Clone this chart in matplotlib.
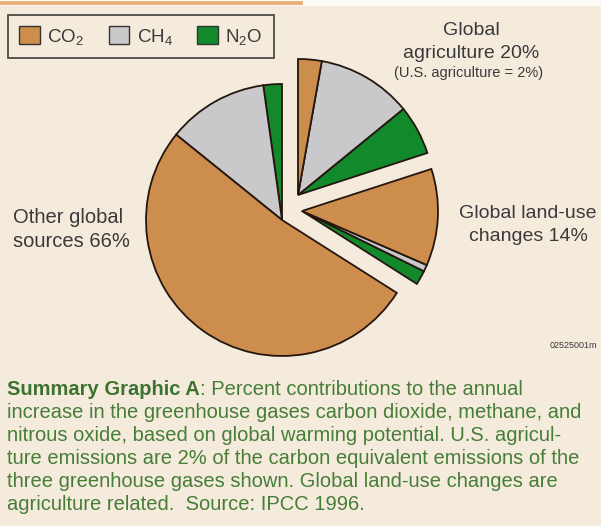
import matplotlib
matplotlib.use("Agg")
import matplotlib.pyplot as plt
from matplotlib.patches import Patch, Rectangle

# percent contributions, listed counterclockwise inside each group (N2O, CH4, CO2)
gases = ["CO$_2$", "CH$_4$", "N$_2$O"]
other_sources = [2.2, 12.0, 51.8]
land_use = [1.7, 0.8, 11.5]
agriculture = [5.9, 11.3, 2.8]

other_label = ["Other global", "sources 66%"]
land_label = ["Global land-use", "changes 14%"]
agri_label = ["Global", "agriculture 20%"]
us_note = "(U.S. agriculture = 2%)"
code_tag = "02525001m"
caption_bold = "Summary Graphic A"
caption_lines = [
    ": Percent contributions to the annual",
    "increase in the greenhouse gases carbon dioxide, methane, and",
    "nitrous oxide, based on global warming potential. U.S. agricul-",
    "ture emissions are 2% of the carbon equivalent emissions of the",
    "three greenhouse gases shown. Global land-use changes are",
    "agriculture related.  Source: IPCC 1996.",
]

BG = "#f5ebdd"
C_CO2 = "#cd8d4c"
C_CH4 = "#c9c9cb"
C_N2O = "#12892a"
EDGE = "#24160f"
TXT = "#3a3a3a"
CAP = "#467d37"

plt.rcParams["font.family"] = ["Liberation Sans", "DejaVu Sans"]
plt.rcParams["mathtext.default"] = "regular"

W, H = 601, 526
fig = plt.figure(figsize=(W / 100, H / 100), dpi=100, facecolor=BG)
ax = fig.add_axes([0, 0, 1, 1])
ax.set_facecolor(BG)


def Y(y_img):
    return H - y_img


R = 136
cx, cy = 282, Y(220)
groups = [
    (other_sources, (0, 0)),
    (land_use, (20, 9)),
    (agriculture, (16, 25)),
]
start = 90.0
for vals, (dx, dy) in groups:
    ax.pie([v / 100 for v in vals], normalize=False, startangle=start,
           counterclock=True, radius=R, center=(cx + dx, cy + dy),
           colors=[C_N2O, C_CH4, C_CO2],
           wedgeprops=dict(edgecolor=EDGE, linewidth=1.3))
    start += 3.6 * sum(vals)

ax.set_xlim(0, W)
ax.set_ylim(0, H)
ax.set_aspect("auto")
ax.axis("off")

# thin strip along the top edge
ax.add_patch(Rectangle((0, Y(6)), W, 6, facecolor="#fbfaf7", edgecolor="none"))
ax.add_patch(Rectangle((0, Y(5)), 303, 4, facecolor="#e8b47c", edgecolor="none"))

# legend
handles = [Patch(facecolor=c, edgecolor="#333333", linewidth=1.0)
           for c in (C_CO2, C_CH4, C_N2O)]
leg = ax.legend(handles, gases, ncol=3, loc="upper left",
                bbox_to_anchor=(8 / W, 1 - 15 / H), borderaxespad=0,
                frameon=True, fancybox=False, fontsize=13.5,
                handlelength=1.1, handleheight=1.1, handletextpad=0.4,
                columnspacing=1.3, borderpad=0.6, labelcolor=TXT)
leg.get_frame().set_edgecolor("#222222")
leg.get_frame().set_linewidth(1.3)
leg.get_frame().set_facecolor(BG)

# group labels
for line, y in zip(other_label, (223, 247)):
    ax.text(13, Y(y), line, ha="left", va="baseline", fontsize=14.5, color=TXT)
for line, y in zip(land_label, (218, 241)):
    ax.text(528, Y(y), line, ha="center", va="baseline", fontsize=14, color=TXT)
for line, y in zip(agri_label, (35, 58)):
    ax.text(471, Y(y), line, ha="center", va="baseline", fontsize=14, color=TXT)
ax.text(469, Y(77), us_note, ha="center", va="baseline", fontsize=10.5,
        color=TXT)
ax.text(597, Y(345), code_tag, ha="right", va="center", fontsize=6.5,
        color=TXT)

# caption
x0 = 7
baselines = [395, 418, 441, 464, 487, 510]
b = ax.text(x0, Y(baselines[0]), caption_bold, ha="left", va="baseline",
            fontsize=14.5, color="#3d7330", fontweight="bold")
fig.canvas.draw()
bb = b.get_window_extent(fig.canvas.get_renderer())
ax.text(bb.x1, Y(baselines[0]), caption_lines[0], ha="left", va="baseline",
        fontsize=14.5, color=CAP)
for line, y in zip(caption_lines[1:], baselines[1:]):
    ax.text(x0, Y(y), line, ha="left", va="baseline", fontsize=14.5, color=CAP)

fig.savefig("out.png", dpi=100, facecolor=BG)
